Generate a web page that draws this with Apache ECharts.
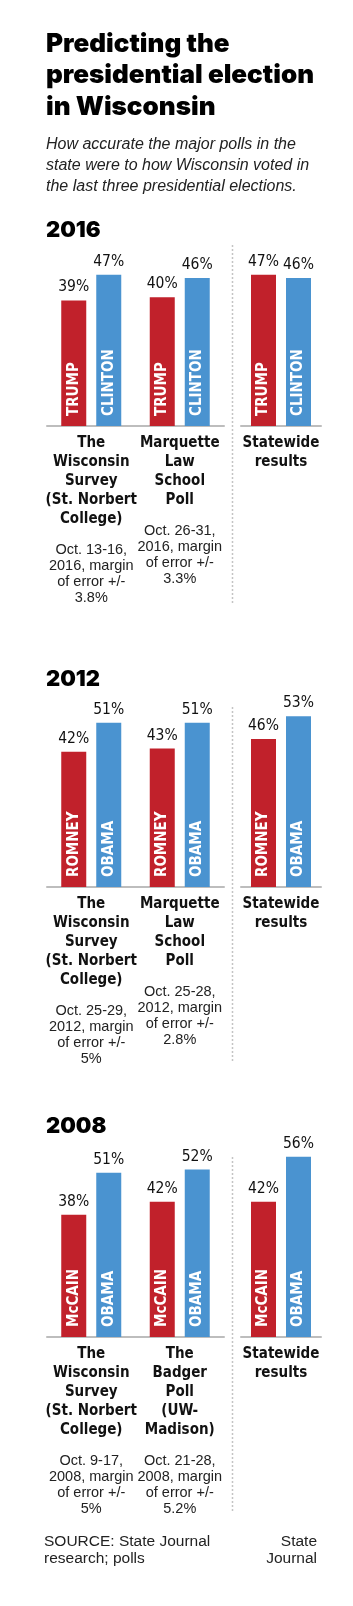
<!DOCTYPE html>
<html>
<head>
<meta charset="utf-8">
<script src="https://cdn.jsdelivr.net/npm/echarts@6/dist/echarts.min.js"></script>
<style>
html,body{margin:0;padding:0;background:#fff;}
#chart{width:353px;height:1606px;}
</style>
</head>
<body>
<div id="chart"></div>
<script>
// ---- DATA ----
const years = ['2016', '2012', '2008'];
const repNames = ['TRUMP', 'ROMNEY', 'McCAIN'];
const demNames = ['CLINTON', 'OBAMA', 'OBAMA'];
const pollNames = [
  ['The\nWisconsin\nSurvey\n(St. Norbert\nCollege)', 'Marquette\nLaw\nSchool\nPoll'],
  ['The\nWisconsin\nSurvey\n(St. Norbert\nCollege)', 'Marquette\nLaw\nSchool\nPoll'],
  ['The\nWisconsin\nSurvey\n(St. Norbert\nCollege)', 'The\nBadger\nPoll\n(UW-\nMadison)']
];
const pollNotes = [
  ['Oct. 13-16,\n2016, margin\nof error +/-\n3.8%', 'Oct. 26-31,\n2016, margin\nof error +/-\n3.3%'],
  ['Oct. 25-29,\n2012, margin\nof error +/-\n5%', 'Oct. 25-28,\n2012, margin\nof error +/-\n2.8%'],
  ['Oct. 9-17,\n2008, margin\nof error +/-\n5%', 'Oct. 21-28,\n2008, margin\nof error +/-\n5.2%']
];
const resultName = 'Statewide\nresults';
const repPoll = [[39, 40], [42, 43], [38, 42]];
const demPoll = [[47, 46], [51, 51], [51, 52]];
const repResult = [47, 46, 42];
const demResult = [46, 53, 56];

// ---- STYLE / LAYOUT ----
const RED = '#c1212b';
const BLUE = '#4a93d0';
const Y_MAX = 60;
const PLOT_H = 193.2;
const baselines = [426, 887, 1337];
const yearTops = [217, 666, 1113];
const sepTops = [245, 707, 1157];
const sepBottoms = [603, 1062, 1512];
const gridA = { left: 47, width: 177 };
const gridB = { left: 241, width: 80 };
const COND = '"DejaVu Sans Condensed", "DejaVu Sans", sans-serif';
const NARROW = '"Liberation Sans Narrow", "Liberation Sans", sans-serif';
const HEAVY = 'Inter, "DejaVu Sans", sans-serif';

const rich = {
  t: { fontFamily: COND, fontWeight: 'bold', fontSize: 15, lineHeight: 19, color: '#111', align: 'center' },
  g: { fontSize: 6, lineHeight: 13, align: 'center' },
  n: { fontFamily: NARROW, fontSize: 14.5, lineHeight: 16, color: '#222', align: 'center' }
};

const grids = [], xAxes = [], yAxes = [], series = [], graphics = [];

years.forEach((yr, si) => {
  const base = baselines[si];
  const groups = [
    { pos: gridA, cats: pollNames[si], notes: pollNotes[si], rep: repPoll[si], dem: demPoll[si] },
    { pos: gridB, cats: [resultName], notes: [''], rep: [repResult[si]], dem: [demResult[si]] }
  ];
  groups.forEach(g => {
    const gi = grids.length;
    grids.push({ left: g.pos.left, width: g.pos.width, top: base - PLOT_H, height: PLOT_H });
    const notes = g.notes;
    xAxes.push({
      type: 'category', gridIndex: gi, data: g.cats,
      axisLine: { show: true, lineStyle: { color: '#bdbdbd', width: 2 } },
      axisTick: { show: false },
      axisLabel: {
        interval: 0, margin: 8, rich: rich,
        formatter: (v, i) => notes[i] ? '{t|' + v + '}\n{g| }\n{n|' + notes[i] + '}' : '{t|' + v + '}'
      }
    });
    xAxes.push({ type: 'category', gridIndex: gi, data: g.cats, show: false });
    yAxes.push({ type: 'value', gridIndex: gi, min: 0, max: Y_MAX, show: false });
    const xa = 2 * gi, xb = 2 * gi + 1;
    const nameLabel = (txt) => ({
      show: true, position: 'insideBottom', rotate: 90, align: 'left', verticalAlign: 'middle',
      distance: 10, formatter: txt, color: '#fff', fontFamily: COND, fontWeight: 'bold', fontSize: 15
    });
    const valLabel = {
      show: true, position: 'top', distance: 5, formatter: '{c}%',
      color: '#111', fontFamily: COND, fontSize: 15.5
    };
    series.push({ type: 'bar', xAxisIndex: xa, yAxisIndex: gi, data: g.rep, barWidth: 25, barGap: '40%',
      itemStyle: { color: RED }, label: nameLabel(repNames[si]), silent: true });
    series.push({ type: 'bar', xAxisIndex: xa, yAxisIndex: gi, data: g.dem, barWidth: 25, barGap: '40%',
      itemStyle: { color: BLUE }, label: nameLabel(demNames[si]), silent: true });
    series.push({ type: 'bar', xAxisIndex: xb, yAxisIndex: gi, data: g.rep, barWidth: 25, barGap: '40%',
      itemStyle: { color: 'rgba(0,0,0,0)' }, label: valLabel, silent: true });
    series.push({ type: 'bar', xAxisIndex: xb, yAxisIndex: gi, data: g.dem, barWidth: 25, barGap: '40%',
      itemStyle: { color: 'rgba(0,0,0,0)' }, label: valLabel, silent: true });
  });
  const sepX = (gridA.left + gridA.width + gridB.left) / 2;
  graphics.push({
    type: 'line', shape: { x1: sepX, y1: sepTops[si], x2: sepX, y2: sepBottoms[si] },
    style: { stroke: '#c4c4c4', lineWidth: 1.5, lineDash: [2, 2] }, silent: true
  });
});

const titles = [
  { text: 'Predicting the\npresidential election\nin Wisconsin', left: 46, top: 28, padding: 0,
    textStyle: { fontFamily: HEAVY, fontWeight: 900, fontSize: 26, lineHeight: 31.5, color: '#000' } },
  { text: 'How accurate the major polls in the\nstate were to how Wisconsin voted in\nthe last three presidential elections.',
    left: 46, top: 134, padding: 0,
    textStyle: { fontFamily: NARROW, fontStyle: 'italic', fontWeight: 'normal', fontSize: 16, lineHeight: 21, color: '#222' } },
  { text: 'SOURCE: State Journal\nresearch; polls', left: 44, top: 1533, padding: 0,
    textStyle: { fontFamily: NARROW, fontWeight: 'normal', fontSize: 15.5, lineHeight: 17, color: '#222' } },
  { text: 'State\nJournal', left: 317, top: 1533, padding: 0, textAlign: 'right',
    textStyle: { fontFamily: NARROW, fontWeight: 'normal', fontSize: 15.5, lineHeight: 17, color: '#222', align: 'right' } }
];
years.forEach((yr, si) => {
  titles.push({ text: yr, left: 46, top: yearTops[si], padding: 0,
    textStyle: { fontFamily: HEAVY, fontWeight: 900, fontSize: 22, lineHeight: 26, color: '#000' } });
});

const chart = echarts.init(document.getElementById('chart'), null, { renderer: 'canvas' });
chart.setOption({
  animation: false,
  backgroundColor: '#fff',
  title: titles,
  grid: grids,
  xAxis: xAxes,
  yAxis: yAxes,
  series: series,
  graphic: graphics
});
</script>
</body>
</html>
